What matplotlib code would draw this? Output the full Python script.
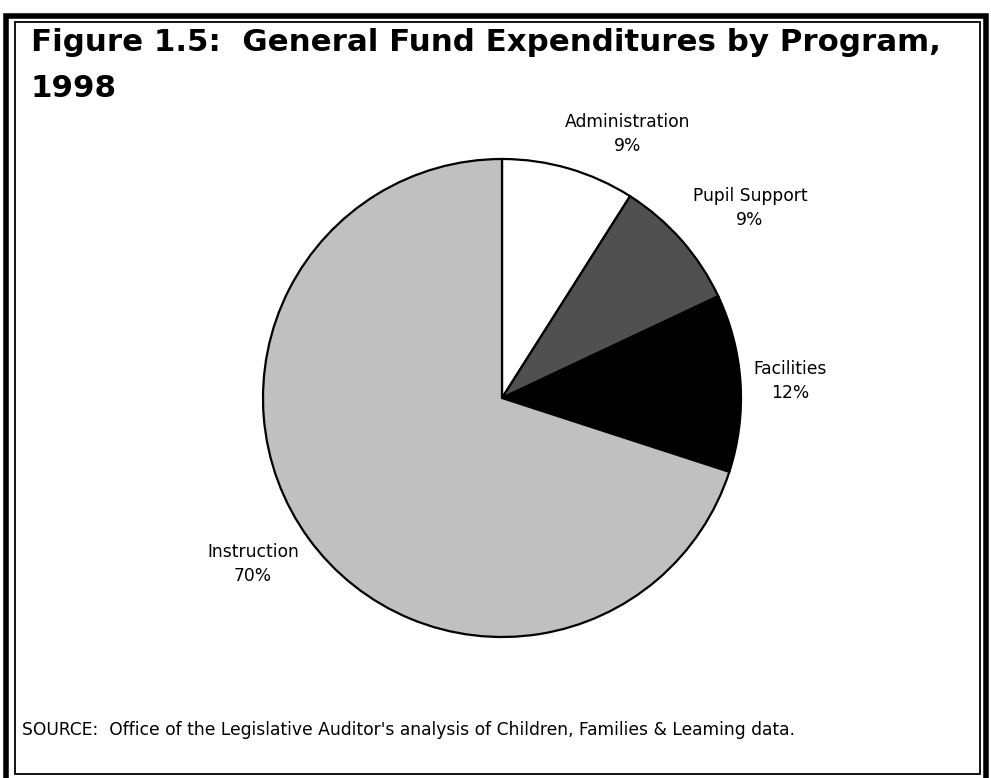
import numpy as np
import matplotlib
matplotlib.use('Agg')
import matplotlib.pyplot as plt
from matplotlib.patches import Rectangle

# data
programs = ['Administration', 'Pupil Support', 'Facilities', 'Instruction']
shares = [9, 9, 12, 70]
slice_colors = ['#ffffff', '#505050', '#000000', '#c0c0c0']
# label anchor points (pixel coords, y measured from top)
label_xy = [(628, 134), (750, 208), (790, 381), (253, 564)]

W, H = 991, 778
plt.rcParams['font.family'] = ['DejaVu Sans']

fig = plt.figure(figsize=(W / 100, H / 100), dpi=100)
ax = fig.add_axes([0, 0, 1, 1])

# pie
ax.pie(shares, colors=slice_colors, startangle=90, counterclock=False,
       center=(502, H - 398), radius=239, frame=True,
       wedgeprops=dict(edgecolor='black', linewidth=1.6))
ax.set_xlim(0, W)
ax.set_ylim(0, H)
ax.set_aspect('equal')
ax.axis('off')

# double frame
ax.add_patch(Rectangle((6, -5), 980, H - 11, fill=False, lw=4, ec='black'))
ax.add_patch(Rectangle((15, 4), 965, H - 26, fill=False, lw=1.3, ec='black'))

for name, val, (x, y) in zip(programs, shares, label_xy):
    ax.text(x, H - y, f'{name}\n{val}%', ha='center', va='center',
            fontsize=12.3, linespacing=1.4)

# title
ax.text(31, H - 42, 'Figure 1.5:  General Fund Expenditures by Program,',
        fontsize=22.2, fontweight='bold', ha='left', va='center')
ax.text(31, H - 88, '1998', fontsize=22.2, fontweight='bold',
        ha='left', va='center')

# source
ax.text(22, H - 730,
        "SOURCE:  Office of the Legislative Auditor's analysis of Children, Families & Leaming data.",
        fontsize=12.3, ha='left', va='center')

fig.savefig('out.png', dpi=100)
